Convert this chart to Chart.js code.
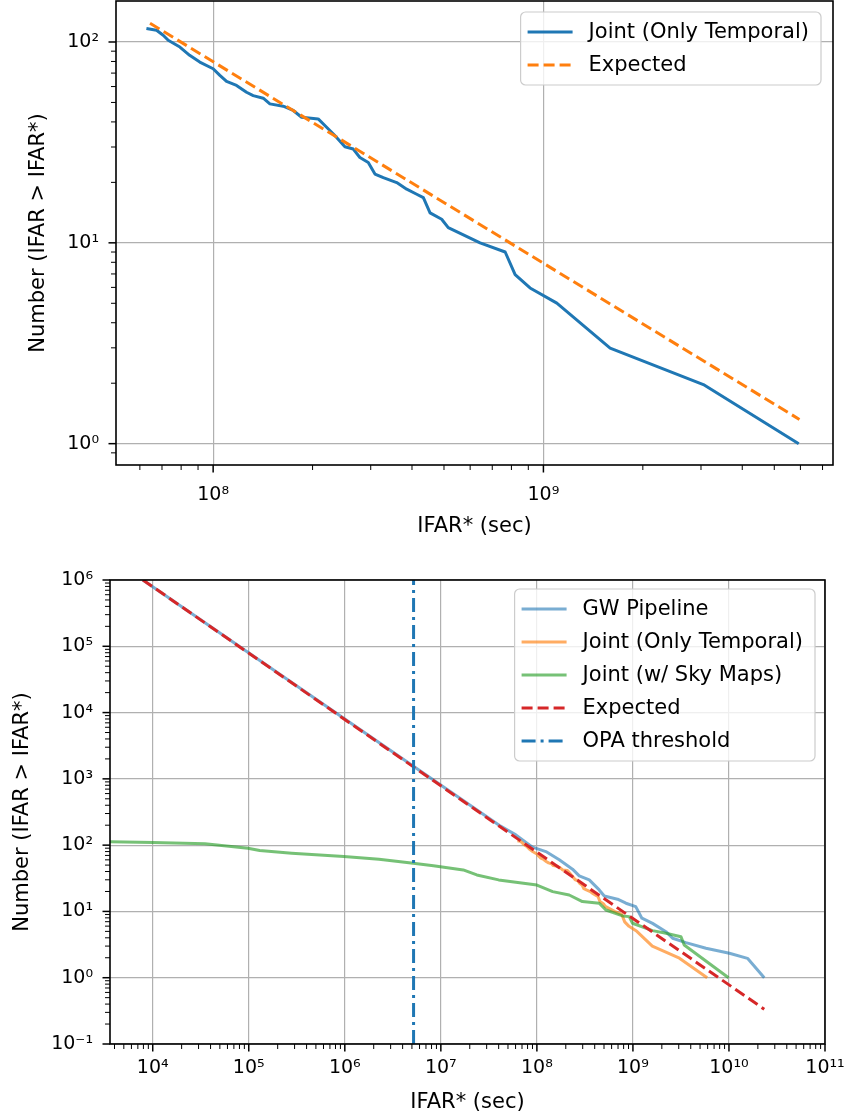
<!DOCTYPE html>
<html>
<head>
<meta charset="utf-8">
<title>IFAR cumulative counts</title>
<script src="https://cdn.jsdelivr.net/npm/chart.js@4.4.1/dist/chart.umd.min.js"></script>
<style>
  body { margin: 0; background: #fff; }
  #wrap { position: relative; width: 851px; height: 1120px; }
  .box { position: absolute; left: 0; width: 851px; }
  #topBox { top: 0; height: 545px; }
  #bottomBox { top: 560px; height: 560px; }
</style>
</head>
<body>
<div id="wrap">
  <div class="box" id="topBox"><canvas id="topChart"></canvas></div>
  <div class="box" id="bottomBox"><canvas id="bottomChart"></canvas></div>
</div>
<script>
// values: IFAR* in seconds, number of events above it

// Joint (Only Temporal) - same curve in both panels
const jointTemporalIfar = [6.28e7, 6.74e7, 7.06e7, 7.31e7, 7.93e7, 8.49e7, 9.11e7, 1.0e8, 1.048e8, 1.098e8,
  1.177e8, 1.262e8, 1.322e8, 1.418e8, 1.485e8, 1.63e8, 1.748e8, 1.853e8, 2.08e8, 2.206e8,
  2.365e8, 2.506e8, 2.656e8, 2.782e8, 2.949e8, 3.09e8, 3.275e8, 3.596e8, 3.855e8, 4.134e8,
  4.33e8, 4.537e8, 4.92e8, 5.15e8, 6.43e8, 7.66e8, 8.21e8, 9.11e8, 1.098e9, 1.592e9,
  3.05e9, 5.93e9];
const jointTemporalN = [116.7, 114.4, 108, 102, 94.4, 85.8, 79.4, 73.6, 68.2, 63.6,
  60.8, 56.2, 54.1, 52.5, 49.2, 47.9, 45.6, 42.2, 41.4, 37.6,
  33.5, 30.1, 29.3, 26.6, 25.1, 22.0, 21.1, 19.95, 18.5, 17.46,
  16.8, 14.1, 13.1, 11.9, 10.0, 9.0, 6.95, 5.96, 5.01, 2.99,
  1.97, 1.0];

// expected background, top panel
const expectedTopIfar = [6.44e7, 5.96e9];
const expectedTopN = [124, 1.32];

// bottom panel
const gwIfar = [7.9e3, 4.05e7, 6.04e7, 9.0e7, 1.24e8, 1.71e8, 2.35e8, 2.76e8, 3.51e8, 4.46e8,
  5.03e8, 6.92e8, 8.46e8, 1.07e9, 1.24e9, 1.6e9, 2.21e9, 2.59e9, 3.56e9, 5.76e9,
  1.01e10, 1.56e10, 2.33e10];
const gwN = [1e6, 200, 143, 93.3, 80, 60, 43.4, 34.4, 29.9, 21.1,
  17.1, 15.3, 13.3, 11.8, 7.9, 6.6, 4.95, 3.94, 3.38, 2.78,
  2.34, 1.96, 1.0];

const skyIfar = [3.5e3, 1e4, 3.5e4, 9.8e4, 1.3e5, 2.8e5, 9.77e5, 2.27e6, 5.16e6, 8.37e6,
  1.71e7, 2.37e7, 4.0e7, 1.0e8, 1.46e8, 2.17e8, 2.98e8, 4.46e8, 5.23e8, 7.8e8,
  9.15e8, 9.91e8, 1.6e9, 2.21e9, 3.16e9, 3.42e9, 9.9e9];
const skyN = [113, 110, 105, 90, 83, 75.7, 67.3, 61.4, 53.4, 48.7,
  42.3, 35.5, 29.9, 25, 19.9, 17.7, 14.1, 13.3, 10.5, 8.55,
  8.35, 6.63, 5.13, 4.68, 4.16, 3.12, 1.0];

const expectedIfar = [7.9e3, 2.33e10];
const expectedN = [1e6, 0.335];

const opaThreshold = 5.2e6;

// axis limits
const topXRange = [5.08e7, 7.53e9];
const topYRange = [0.783, 160];
const bottomXRange = [3.59e3, 1e11];
const bottomYRange = [0.1, 1e6];

const FONT = 'DejaVu Sans';
const TAB_BLUE = '#1f77b4', TAB_ORANGE = '#ff7f0e', TAB_RED = '#d62728';

function pts(xs, ys) {
  return xs.map((x, i) => ({x: x, y: ys[i]}));
}

function isPow10(v) {
  const l = Math.log10(v);
  return Math.abs(l - Math.round(l)) < 1e-6;
}
// log ticks at 1..9 x 10^n (skip the axis end points chart.js adds)
function isLogTick(v) {
  const m = v / Math.pow(10, Math.floor(Math.log10(v) + 1e-9));
  return Math.abs(m - Math.round(m)) < 1e-6;
}

const SUP = {'0': '⁰', '1': '¹', '2': '²', '3': '³', '4': '⁴', '5': '⁵', '6': '⁶', '7': '⁷', '8': '⁸', '9': '⁹', '-': '⁻'};
function powLabel(v) {
  if (!isPow10(v)) return '';
  return '10' + String(Math.round(Math.log10(v))).split('').map(c => SUP[c]).join('');
}

// black box round the axes + outward tick marks, matplotlib style
const mplFrame = {
  id: 'mplFrame',
  afterDatasetsDraw(chart) {
    const ctx = chart.ctx, a = chart.chartArea;
    const xs = chart.scales.x, ys = chart.scales.y;
    ctx.save();
    ctx.strokeStyle = '#000';
    xs.ticks.forEach(t => {
      if (!isLogTick(t.value)) return;
      const px = xs.getPixelForValue(t.value);
      if (px < a.left - 0.5 || px > a.right + 0.5) return;
      const major = isPow10(t.value);
      ctx.lineWidth = major ? 1.5 : 1;
      ctx.beginPath();
      ctx.moveTo(px, a.bottom);
      ctx.lineTo(px, a.bottom + (major ? 7.5 : 5));
      ctx.stroke();
    });
    ys.ticks.forEach(t => {
      if (!isLogTick(t.value)) return;
      const py = ys.getPixelForValue(t.value);
      if (py < a.top - 0.5 || py > a.bottom + 0.5) return;
      const major = isPow10(t.value);
      ctx.lineWidth = major ? 1.5 : 1;
      ctx.beginPath();
      ctx.moveTo(a.left, py);
      ctx.lineTo(a.left - (major ? 7.5 : 5), py);
      ctx.stroke();
    });
    ctx.lineWidth = 1.6;
    ctx.strokeRect(a.left, a.top, a.right - a.left, a.bottom - a.top);
    ctx.restore();
  }
};

// legend box drawn inside the plot, upper right
const innerLegend = {
  id: 'innerLegend',
  afterDraw(chart, args, opts) {
    const ctx = chart.ctx, a = chart.chartArea;
    const items = chart.data.datasets.filter(d => d.label);
    ctx.save();
    ctx.font = '21px "' + FONT + '"';
    const textW = Math.max(...items.map(d => ctx.measureText(d.label).width));
    const w = 7 + 45 + 16 + textW + 12;
    const h = 40 + 33 * (items.length - 1);
    const x0 = a.right - opts.right - w, y0 = a.top + opts.top;
    ctx.beginPath();
    ctx.roundRect(x0, y0, w, h, 5);
    ctx.fillStyle = 'rgba(255,255,255,0.8)';
    ctx.fill();
    ctx.strokeStyle = '#cccccc';
    ctx.lineWidth = 1.2;
    ctx.stroke();
    items.forEach((d, i) => {
      const cy = y0 + 20 + 33 * i;
      ctx.beginPath();
      ctx.setLineDash(d.borderDash || []);
      ctx.lineWidth = d.borderWidth;
      ctx.strokeStyle = d.borderColor;
      ctx.moveTo(x0 + 7, cy);
      ctx.lineTo(x0 + 52, cy);
      ctx.stroke();
      ctx.setLineDash([]);
      ctx.fillStyle = '#000';
      ctx.textBaseline = 'middle';
      ctx.fillText(d.label, x0 + 68, cy + 1);
    });
    ctx.restore();
  }
};

function logAxis(range, opt) {
  return {
    type: 'logarithmic',
    min: range[0],
    max: range[1],
    grid: {
      drawTicks: false,
      lineWidth: 1.2,
      color: c => (c.tick && isPow10(c.tick.value)) ? '#b0b0b0' : 'rgba(0,0,0,0)'
    },
    border: {display: false},
    ticks: {
      autoSkip: false,
      maxRotation: 0,
      minRotation: 0,
      padding: opt.tickPad,
      color: '#000',
      font: {family: FONT, size: 19},
      callback: v => powLabel(v)
    },
    title: {
      display: true,
      text: opt.title,
      color: '#000',
      font: {family: FONT, size: 21},
      padding: opt.titlePad
    },
    // fixed axis size so the plot box lands where it is in the figure
    afterFit: s => {
      if (opt.height) s.height = opt.height;
      if (opt.width) s.width = opt.width;
      s.paddingTop = 0; s.paddingBottom = 0;
      s.paddingLeft = 0; s.paddingRight = 0;
    }
  };
}

function lineSet(label, xs, ys, color, extra) {
  return Object.assign({
    label: label,
    data: pts(xs, ys),
    borderColor: color,
    backgroundColor: color,
    borderWidth: 3,
    pointRadius: 0,
    tension: 0,
    fill: false,
    borderCapStyle: 'butt',
    borderJoinStyle: 'round'
  }, extra || {});
}

const baseOptions = {
  responsive: false,
  animation: false,
  devicePixelRatio: 1,
  plugins: {legend: {display: false}, tooltip: {enabled: false}}
};

// top panel
const topCanvas = document.getElementById('topChart');
topCanvas.width = 851; topCanvas.height = 545;
new Chart(topCanvas, {
  type: 'line',
  data: {
    datasets: [
      lineSet('Joint (Only Temporal)', jointTemporalIfar, jointTemporalN, TAB_BLUE, {order: 2}),
      lineSet('Expected', expectedTopIfar, expectedTopN, TAB_ORANGE, {borderDash: [11, 5], order: 1})
    ]
  },
  options: Object.assign({}, baseOptions, {
    layout: {padding: {left: 0, top: 1, right: 18, bottom: 0}},
    plugins: Object.assign({}, baseOptions.plugins, {innerLegend: {right: 12, top: 11}}),
    scales: {
      x: logAxis(topXRange, {title: 'IFAR* (sec)', tickPad: 19, titlePad: {top: 0, bottom: 6}, height: 80}),
      y: logAxis(topYRange, {title: 'Number (IFAR > IFAR*)', tickPad: 17, titlePad: {top: 26, bottom: 0}, width: 116})
    }
  }),
  plugins: [mplFrame, innerLegend]
});

// bottom panel
const bottomCanvas = document.getElementById('bottomChart');
bottomCanvas.width = 851; bottomCanvas.height = 560;
new Chart(bottomCanvas, {
  type: 'line',
  data: {
    datasets: [
      lineSet('GW Pipeline', gwIfar, gwN, 'rgba(31,119,180,0.6)', {order: 5}),
      lineSet('Joint (Only Temporal)', jointTemporalIfar, jointTemporalN, 'rgba(255,127,14,0.65)', {order: 4}),
      lineSet('Joint (w/ Sky Maps)', skyIfar, skyN, 'rgba(44,160,44,0.65)', {order: 3}),
      lineSet('Expected', expectedIfar, expectedN, TAB_RED, {borderDash: [11, 5], order: 2}),
      lineSet('OPA threshold', [opaThreshold, opaThreshold], bottomYRange, TAB_BLUE, {borderDash: [14, 5, 3, 5], order: 1})
    ]
  },
  options: Object.assign({}, baseOptions, {
    layout: {padding: {left: 0, top: 20, right: 26, bottom: 0}},
    plugins: Object.assign({}, baseOptions.plugins, {innerLegend: {right: 10, top: 9}}),
    scales: {
      x: logAxis(bottomXRange, {title: 'IFAR* (sec)', tickPad: 13, titlePad: {top: 0, bottom: 5}, height: 76}),
      y: logAxis(bottomYRange, {title: 'Number (IFAR > IFAR*)', tickPad: 17, titlePad: {top: 10, bottom: 0}, width: 110})
    }
  }),
  plugins: [mplFrame, innerLegend]
});
</script>
</body>
</html>
